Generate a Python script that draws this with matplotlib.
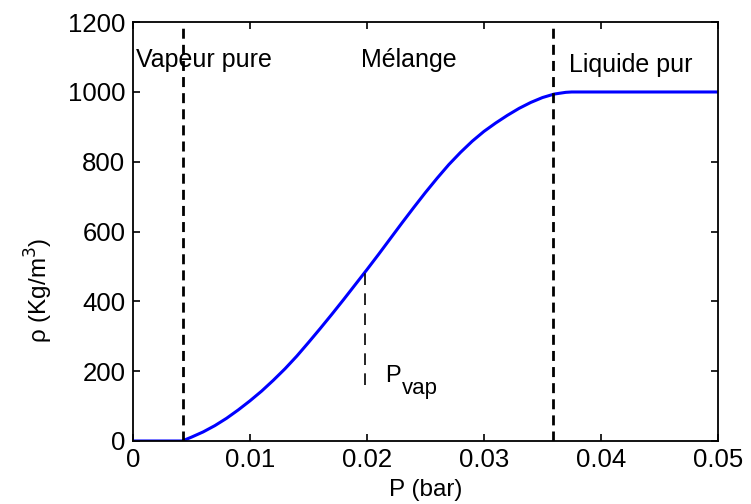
import matplotlib
matplotlib.use("Agg")
import matplotlib.pyplot as plt

# density curve
pressure = [0.0, 0.0042, 0.005, 0.006, 0.007, 0.008, 0.009, 0.010, 0.011, 0.012,
            0.013, 0.014, 0.015, 0.016, 0.017, 0.018, 0.019, 0.020, 0.021,
            0.022, 0.023, 0.024, 0.025, 0.026, 0.027, 0.028, 0.029, 0.030,
            0.031, 0.032, 0.033, 0.034, 0.035, 0.036, 0.037, 0.0375, 0.050]
density = [0, 0, 11, 26, 44, 65, 89, 115, 143, 174,
           207, 243, 282, 322, 363, 405, 448, 491, 535,
           580, 625, 669, 712, 753, 792, 827, 859, 887,
           911, 933, 953, 970, 984, 994, 999, 1000, 1000]

phase_limits = [0.00425, 0.0359]
p_vap = 0.0198
p_vap_span = [160, 480]

region_labels = ["Vapeur pure", "Mélange", "Liquide pur"]
region_x = [0.0003, 0.0236, 0.0373]
region_y = [1072, 1072, 1058]
region_ha = ["left", "center", "left"]

x_ticks = [0, 0.01, 0.02, 0.03, 0.04, 0.05]
x_tick_labels = ["0", "0.01", "0.02", "0.03", "0.04", "0.05"]
y_ticks = [0, 200, 400, 600, 800, 1000, 1200]

plt.rcParams["font.family"] = ["Liberation Sans", "DejaVu Sans"]

fig = plt.figure(figsize=(7.51, 5.04), dpi=100)
ax = fig.add_axes([0.177, 0.125, 0.779, 0.831])

ax.plot(pressure, density, color="#0000ff", linewidth=2.2)

for x in phase_limits:
    ax.axvline(x, color="black", linewidth=2.0, linestyle=(0, (3.6, 2.2)))

ax.plot([p_vap, p_vap], p_vap_span, color="black", linewidth=1.2,
        linestyle=(0, (7, 5)))
ax.text(0.02154, 170, "P", fontsize=17, va="baseline", ha="left")
ax.text(0.02297, 136, "vap", fontsize=16, va="baseline", ha="left")

for label, x, y, ha in zip(region_labels, region_x, region_y, region_ha):
    ax.text(x, y, label, fontsize=18, ha=ha, va="baseline")

ax.set_xlim(0, 0.05)
ax.set_ylim(0, 1200)
ax.set_xticks(x_ticks)
ax.set_xticklabels(x_tick_labels)
ax.set_yticks(y_ticks)
ax.tick_params(direction="in", top=True, right=True, length=5, width=1.2,
               labelsize=18.5)
ax.tick_params(axis="x", pad=5)
ax.tick_params(axis="y", pad=5.5)
for spine in ax.spines.values():
    spine.set_linewidth(1.3)

ax.set_xlabel("P (bar)", fontsize=17.5)
ax.set_ylabel(r"ρ (Kg/m$^3$)", fontsize=17.5)
ax.xaxis.set_label_coords(0.5, -0.09)
ax.yaxis.set_label_coords(-0.133, 0.36)

fig.savefig("out.png", dpi=100)
